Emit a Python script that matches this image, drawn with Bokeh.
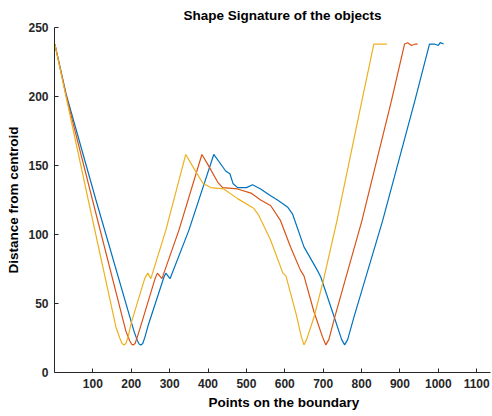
from bokeh.plotting import figure
from bokeh.models import Range1d, FixedTicker, Title
from bokeh.embed import file_html
from bokeh.resources import INLINE

# ---- data ----
blue_x = [1, 30, 108, 207, 216, 221, 225, 230, 236, 245, 285, 290, 301, 350, 415,
          446, 457, 465, 477, 500, 516, 537, 563, 581, 607, 620, 650, 685, 694, 729,
          748, 756, 764, 780, 855, 939, 977, 990, 1000, 1005, 1014]
blue_y = [238, 202, 125, 30, 23, 20.5, 20, 21, 26, 35, 69, 72, 68, 103, 158,
          146, 144, 137, 134, 134, 136, 133, 128, 125, 120, 115, 91, 74, 69, 40,
          24, 20, 24, 40, 110, 197, 238, 238, 237, 239, 238]

red_x = [1, 30, 99, 186, 196, 201, 205, 210, 216, 225, 262, 268, 280, 324, 384,
         399, 425, 438, 477, 512, 537, 563, 589, 615, 641, 650, 676, 698, 707, 715,
         730, 801, 878, 912, 920, 930, 940, 946]
red_y = [238, 201, 125, 30, 23, 20.5, 20, 21, 26, 34, 68, 72, 68, 103, 158,
         151, 138, 134, 133, 130, 125, 121, 110, 91, 74, 70, 44, 26, 20, 24,
         40, 110, 197, 238, 239, 237, 238, 238]

yellow_x = [1, 30, 88, 160, 170, 176, 181, 186, 192, 200, 235, 243, 251, 290, 342,
            365, 387, 407, 441, 477, 519, 532, 563, 595, 603, 630, 643, 650, 657, 676,
            700, 736, 801, 832, 850, 866]
yellow_y = [238, 200, 125, 33, 25, 21, 20, 21, 26, 36, 68, 72, 68, 103, 158,
            147, 137, 134, 133, 126, 119, 114, 96, 72, 70, 42, 26, 20, 24, 40,
            66, 110, 197, 238, 238, 238]

x_ticks = [100, 200, 300, 400, 500, 600, 700, 800, 900, 1000, 1100]
y_ticks = [0, 50, 100, 150, 200, 250]

title_text = "Shape Signature of the objects"
x_label = "Points on the boundary"
y_label = "Distance from centroid"

FONT = "Liberation Sans"
TXT = "#262626"

p = figure(width=492, height=416, output_backend="svg", toolbar_location=None,
           x_range=Range1d(0, 1136), y_range=Range1d(0, 250),
           min_border_left=54, min_border_right=2, min_border_top=27,
           min_border_bottom=44, title=None)
p.outline_line_color = None
p.xgrid.visible = False
p.ygrid.visible = False
p.background_fill_color = "white"
p.border_fill_color = "white"

p.line(blue_x, blue_y, line_color="#0072BD", line_width=1.2)
p.line(red_x, red_y, line_color="#D95319", line_width=1.2)
p.line(yellow_x, yellow_y, line_color="#EDB120", line_width=1.2)

for ax in (p.xaxis[0], p.yaxis[0]):
    ax.axis_line_color = TXT
    ax.major_tick_line_color = TXT
    ax.major_tick_in = 4
    ax.major_tick_out = 0
    ax.minor_tick_line_color = None
    ax.major_label_text_font = FONT
    ax.major_label_text_font_style = "bold"
    ax.major_label_text_font_size = "12px"
    ax.major_label_text_color = TXT

p.xaxis[0].ticker = FixedTicker(ticks=x_ticks)
p.yaxis[0].ticker = FixedTicker(ticks=y_ticks)
p.xaxis[0].major_label_standoff = 6
p.yaxis[0].major_label_standoff = 6

p.yaxis[0].axis_label = y_label
p.yaxis[0].axis_label_text_font = FONT
p.yaxis[0].axis_label_text_font_style = "bold"
p.yaxis[0].axis_label_text_font_size = "13.5px"
p.yaxis[0].axis_label_text_color = "#000000"
p.yaxis[0].axis_label_standoff = 4

p.add_layout(Title(text=title_text, align="left", offset=129, standoff=10,
                   text_font=FONT, text_font_style="bold",
                   text_font_size="13.5px", text_color="#000000"), "above")
p.add_layout(Title(text=x_label, align="left", offset=154, standoff=5,
                   text_font=FONT, text_font_style="bold",
                   text_font_size="13.5px", text_color="#000000"), "below")

open("out.html", "w").write(file_html(p, INLINE))
